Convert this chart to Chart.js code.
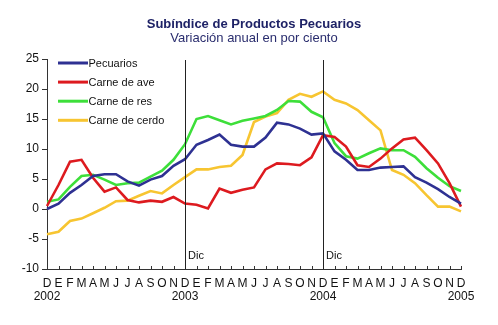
<!DOCTYPE html>
<html>
<head>
<meta charset="utf-8">
<script src="https://cdn.jsdelivr.net/npm/chart.js@4.4.1/dist/chart.umd.min.js"></script>
<style>
  html, body { margin: 0; padding: 0; background: #fff; }
  #wrap { width: 498px; height: 325px; position: relative; }
</style>
</head>
<body>
<div id="wrap"><canvas id="chart" width="498" height="325"></canvas></div>
<script>
// month letters (Dec 2002 .. Dec 2004) and year labels under each December
const monthLetters = ['D', 'E', 'F', 'M', 'A', 'M', 'J', 'J', 'A', 'S', 'O', 'N'];
const yearLabels = ['2002', '2003', '2004', '2005'];
const yTicks = [-10, -5, 0, 5, 10, 15, 20, 25];

const seriesNames = ['Pecuarios', 'Carne de ave', 'Carne de res', 'Carne de cerdo'];
const seriesColors = ['#2e3192', '#dd1a1f', '#3ddf3a', '#f7c531'];

const pecuarios = [0.0, 0.9, 2.7, 4.0, 5.5, 5.8, 5.8, 4.6, 3.9, 4.9, 5.5, 7.2, 8.3,
  10.7, 11.5, 12.4, 10.7, 10.4, 10.4, 11.9, 14.4, 14.1, 13.4, 12.4, 12.6,
  9.6, 8.2, 6.5, 6.5, 6.9, 7.0, 7.1, 5.3, 4.4, 3.3, 2.0, 0.9];
const carneAve = [0.5, 4.0, 7.9, 8.2, 5.2, 2.9, 3.6, 1.5, 1.1, 1.4, 1.2, 2.0, 0.9,
  0.7, 0.1, 3.4, 2.7, 3.2, 3.6, 6.6, 7.6, 7.5, 7.3, 8.6, 12.3,
  12.0, 10.4, 7.3, 7.0, 8.4, 10.1, 11.6, 11.9, 9.8, 7.6, 4.3, 0.4];
const carneRes = [1.2, 1.6, 3.7, 5.5, 5.7, 4.9, 4.0, 4.3, 4.4, 5.4, 6.4, 8.2, 10.8,
  15.0, 15.5, 14.8, 14.1, 14.7, 15.1, 15.5, 16.5, 18.0, 17.9, 16.2, 15.3,
  11.0, 8.8, 8.4, 9.3, 10.1, 9.8, 9.8, 8.7, 6.8, 5.2, 3.8, 3.0];
const carneCerdo = [-4.2, -3.8, -2.0, -1.6, -0.7, 0.2, 1.3, 1.4, 2.2, 3.0, 2.6, 4.0, 5.3,
  6.6, 6.6, 7.0, 7.2, 9.0, 14.5, 15.4, 16.0, 18.2, 19.2, 18.7, 19.6,
  18.2, 17.6, 16.5, 14.8, 13.1, 6.5, 5.7, 4.3, 2.3, 0.4, 0.4, -0.4];

const markerIndexes = [12, 24];
const markerText = 'Dic';

const labels = [];
for (let i = 0; i < pecuarios.length; i++) {
    const m = monthLetters[i % 12];
    labels.push(i % 12 === 0 ? [m, yearLabels[i / 12]] : m);
}

const allSeries = [pecuarios, carneAve, carneRes, carneCerdo];
const datasets = allSeries.map((vals, k) => ({
    label: seriesNames[k],
    data: vals,
    borderColor: seriesColors[k],
    backgroundColor: seriesColors[k],
    borderWidth: 2.6,
    pointRadius: 0,
    tension: 0,
    fill: false
}));

const decorations = {
    id: 'decorations',
    afterDatasetsDraw(chart) {
        const ctx = chart.ctx;
        const x = chart.scales.x;
        const area = chart.chartArea;
        ctx.save();
        // small ticks pointing up from the x axis
        ctx.strokeStyle = '#333';
        ctx.lineWidth = 1;
        ctx.beginPath();
        labels.forEach((l, i) => {
            const px = Math.round(x.getPixelForValue(i)) + 0.5;
            ctx.moveTo(px, area.bottom - 3);
            ctx.lineTo(px, area.bottom + 1);
        });
        ctx.stroke();
        // december markers
        ctx.strokeStyle = '#222';
        ctx.font = '11px "Liberation Sans", Arial, sans-serif';
        ctx.fillStyle = '#111';
        ctx.textBaseline = 'middle';
        ctx.textAlign = 'left';
        markerIndexes.forEach(idx => {
            const px = Math.round(x.getPixelForValue(idx)) + 0.5;
            ctx.beginPath();
            ctx.moveTo(px, area.top + 1);
            ctx.lineTo(px, area.bottom);
            ctx.stroke();
            ctx.fillText(markerText, px + 2.5, 256);
        });
        // legend
        chart.data.datasets.forEach((ds, k) => {
            const ly = 63 + k * 19.1;
            ctx.strokeStyle = ds.borderColor;
            ctx.lineWidth = 3;
            ctx.beginPath();
            ctx.moveTo(58, ly);
            ctx.lineTo(88, ly);
            ctx.stroke();
            ctx.fillStyle = '#111';
            ctx.fillText(ds.label, 88.5, ly + 0.5);
        });
        ctx.restore();
    },
    afterDraw(chart) {
        const ctx = chart.ctx;
        ctx.save();
        ctx.textAlign = 'center';
        ctx.textBaseline = 'middle';
        ctx.fillStyle = '#1e2266';
        ctx.font = 'bold 13px "Liberation Sans", Arial, sans-serif';
        ctx.fillText('Subíndice de Productos Pecuarios', 254, 24.5);
        ctx.fillStyle = '#2a2d6e';
        ctx.font = '13px "Liberation Sans", Arial, sans-serif';
        ctx.fillText('Variación anual en por ciento', 254, 38.5);
        ctx.restore();
    }
};

new Chart(document.getElementById('chart').getContext('2d'), {
    type: 'line',
    data: { labels: labels, datasets: datasets },
    options: {
        responsive: false,
        animation: false,
        layout: { padding: { top: 59, right: 37, left: 0, bottom: 0 } },
        plugins: { legend: { display: false }, tooltip: { enabled: false } },
        scales: {
            x: {
                offset: false,
                afterFit: s => { s.height = 56; },
                grid: { drawOnChartArea: false, drawTicks: false, color: '#333' },
                border: { color: '#333', width: 1 },
                ticks: {
                    autoSkip: false, maxRotation: 0, minRotation: 0, padding: 8,
                    color: '#111',
                    font: { family: '"Liberation Sans", Arial, sans-serif', size: 12, lineHeight: 1.1 }
                }
            },
            y: {
                min: yTicks[0],
                max: yTicks[yTicks.length - 1],
                afterFit: s => { s.width = 47; },
                afterBuildTicks: s => { s.ticks = yTicks.map(v => ({ value: v })); },
                grid: { drawOnChartArea: false, tickLength: 5, color: '#333' },
                border: { color: '#333', width: 1 },
                ticks: {
                    padding: 3,
                    color: '#111',
                    font: { family: '"Liberation Sans", Arial, sans-serif', size: 12 }
                }
            }
        }
    },
    plugins: [decorations]
});
</script>
</body>
</html>
